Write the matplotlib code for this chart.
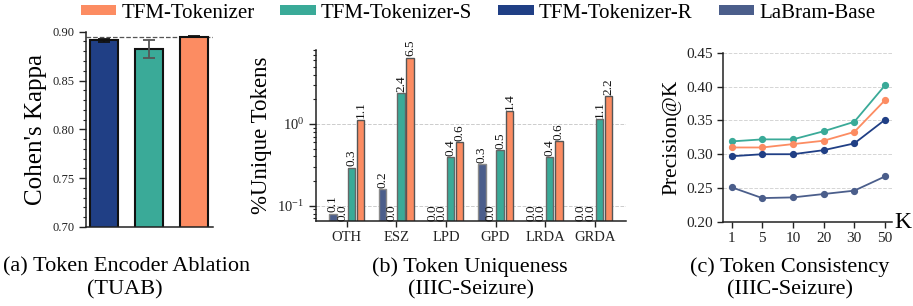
import numpy as np
import matplotlib
matplotlib.use('Agg')
import matplotlib.pyplot as plt
from matplotlib.patches import Patch
from matplotlib.ticker import MultipleLocator, LogLocator, NullFormatter

plt.rcParams['font.family'] = ['Liberation Serif', 'DejaVu Serif']
plt.rcParams['mathtext.fontset'] = 'stix'

# colours
c_tfm = '#FC8C62'
c_s = '#3AAA98'
c_r = '#203F85'
c_lab = '#4B5E8B'

# (a) token encoder ablation
abl_names = ['TFM-Tokenizer-R', 'TFM-Tokenizer-S', 'TFM-Tokenizer']
abl_kappa = [0.891, 0.882, 0.895]
abl_err = [0.002, 0.009, 0.0005]

# (b) token uniqueness, % unique tokens
classes = ['OTH', 'ESZ', 'LPD', 'GPD', 'LRDA', 'GRDA']
uniq_lab = [0.08, 0.16, 0.0, 0.32, 0.0, 0.0]
uniq_r = [0.0, 0.0, 0.0, 0.0, 0.0, 0.0]
uniq_s = [0.29, 2.38, 0.39, 0.48, 0.39, 1.15]
uniq_tfm = [1.12, 6.47, 0.60, 1.44, 0.61, 2.18]

# (c) token consistency, precision@K
k_vals = ['1', '5', '10', '20', '30', '50']
prec_s = [0.319, 0.322, 0.322, 0.334, 0.348, 0.402]
prec_tfm = [0.310, 0.310, 0.315, 0.320, 0.333, 0.380]
prec_r = [0.297, 0.300, 0.300, 0.306, 0.316, 0.351]
prec_lab = [0.251, 0.235, 0.236, 0.241, 0.246, 0.267]

fig = plt.figure(figsize=(9.13, 3.06), dpi=100)
W, H = 913.0, 306.0

def box(l, r, t, b):
    return [l / W, 1 - b / H, (r - l) / W, (b - t) / H]

ax1 = fig.add_axes(box(86, 213, 31.7, 227))
ax2 = fig.add_axes(box(316, 626, 50, 221))
ax3 = fig.add_axes(box(723, 892, 53, 221.7))

for ax in (ax1, ax2, ax3):
    ax.spines['top'].set_visible(False)
    ax.spines['right'].set_visible(False)
    for s in ('left', 'bottom'):
        ax.spines[s].set_color('#222222')
        ax.spines[s].set_linewidth(1.1)

# ---- panel a
xa = np.arange(3)
ax1.bar(xa, abl_kappa, width=0.62, color=[c_r, c_s, c_tfm],
        edgecolor='#111111', linewidth=1.5, zorder=2)
err_cols = ['#111111', '#555555', '#111111']
for i in range(3):
    ax1.errorbar(xa[i], abl_kappa[i], yerr=abl_err[i], color=err_cols[i],
                 capsize=4, elinewidth=1.3, capthick=1.3, zorder=3)
ax1.axhline(abl_kappa[2], color='#555555', linestyle='--', linewidth=0.9, zorder=1)
ax1.set_ylim(0.70, 0.90)
ax1.set_xlim(-0.4, 2.42)
ax1.set_xticks([])
ax1.yaxis.set_major_locator(MultipleLocator(0.05))
ax1.yaxis.set_minor_locator(MultipleLocator(0.01))
ax1.yaxis.set_major_formatter(plt.FormatStrFormatter('%.2f'))
ax1.tick_params(axis='y', which='major', labelsize=9, length=5, width=1, colors='#222222')
ax1.tick_params(axis='y', which='minor', length=2.5, width=0.8, colors='#222222')
ax1.set_ylabel("Cohen's Kappa", fontsize=18, labelpad=4)

# ---- panel b
xb = np.arange(len(classes))
step = 0.185
bw = 0.15
series_b = [(uniq_lab, c_lab, '#8a8a8a'), (uniq_r, c_r, '#555555'),
            (uniq_s, c_s, '#666666'), (uniq_tfm, c_tfm, '#555555')]
ymin_b = 0.065
for j, (vals, col, ec) in enumerate(series_b):
    pos = xb + (j - 1.5) * step
    vals = np.array(vals)
    draw = np.where(vals > 0, vals, np.nan)
    ax2.bar(pos, draw, width=bw, color=col, edgecolor=ec, linewidth=1.0, zorder=2)
    for p, v in zip(pos, vals):
        y = v * 1.04 if v > 0 else ymin_b * 1.01
        ax2.text(p, y, '%.1f' % v, rotation=90, ha='center', va='bottom',
                 fontsize=9.5, color='#111111')
ax2.set_yscale('log')
ax2.set_ylim(ymin_b, 8.0)
ax2.set_xlim(-0.62, 5.63)
ax2.set_xticks(xb)
ax2.set_xticklabels(classes)
ax2.yaxis.set_major_locator(LogLocator(base=10, numticks=5))
ax2.yaxis.set_minor_locator(LogLocator(base=10, subs=np.arange(2, 10), numticks=10))
ax2.yaxis.set_minor_formatter(NullFormatter())
ax2.tick_params(axis='x', labelsize=10.5, length=4, width=1, colors='#222222')
ax2.tick_params(axis='y', which='major', labelsize=10.5, length=5, width=1, colors='#222222')
ax2.tick_params(axis='y', which='minor', length=2.5, width=0.8, colors='#222222')
ax2.yaxis.grid(True, which='major', linestyle='--', color='#cccccc', linewidth=0.7, zorder=0)
ax2.set_axisbelow(True)
ax2.set_ylabel('%Unique Tokens', fontsize=16.5, labelpad=4)

# ---- panel c
xc = np.arange(len(k_vals))
for vals, col in [(prec_s, c_s), (prec_tfm, c_tfm), (prec_r, c_r), (prec_lab, c_lab)]:
    ax3.plot(xc, vals, color=col, marker='o', markersize=4.2, linewidth=1.3, zorder=3)
ax3.set_ylim(0.20, 0.45)
ax3.set_xlim(-0.28, 5.23)
ax3.set_xticks(xc)
ax3.set_xticklabels(k_vals)
ax3.yaxis.set_major_locator(MultipleLocator(0.05))
ax3.yaxis.set_major_formatter(plt.FormatStrFormatter('%.2f'))
ax3.tick_params(axis='both', labelsize=11, length=4, width=1, colors='#222222')
ax3.yaxis.grid(True, linestyle='--', color='#d5d5d5', linewidth=0.7, zorder=0)
ax3.set_axisbelow(True)
ax3.set_ylabel('Precision@K', fontsize=15.5, labelpad=3)
fig.text(903 / W, 1 - 223 / H, 'K', fontsize=17, ha='center', va='center')

# ---- captions
caps = [(127, 125, '(a) Token Encoder Ablation', '(TUAB)'),
        (470, 471, '(b) Token Uniqueness', '(IIIC-Seizure)'),
        (790, 790, '(c) Token Consistency', '(IIIC-Seizure)')]
for x1, x2, t1, t2 in caps:
    fig.text(x1 / W, 1 - 267 / H, t1, fontsize=16, ha='center', va='center')
    fig.text(x2 / W, 1 - 290 / H, t2, fontsize=16, ha='center', va='center')

# ---- legend
handles = [Patch(facecolor=c_tfm), Patch(facecolor=c_s),
           Patch(facecolor=c_r), Patch(facecolor=c_lab)]
labels = ['TFM-Tokenizer', 'TFM-Tokenizer-S', 'TFM-Tokenizer-R', 'LaBram-Base']
fig.legend(handles, labels, loc='center', bbox_to_anchor=(478 / W, 1 - 13 / H),
           ncol=4, frameon=False, fontsize=15, handlelength=1.7, handleheight=0.35,
           handletextpad=0.25, columnspacing=1.25, borderaxespad=0, borderpad=0)

fig.savefig('out.png', dpi=100)
